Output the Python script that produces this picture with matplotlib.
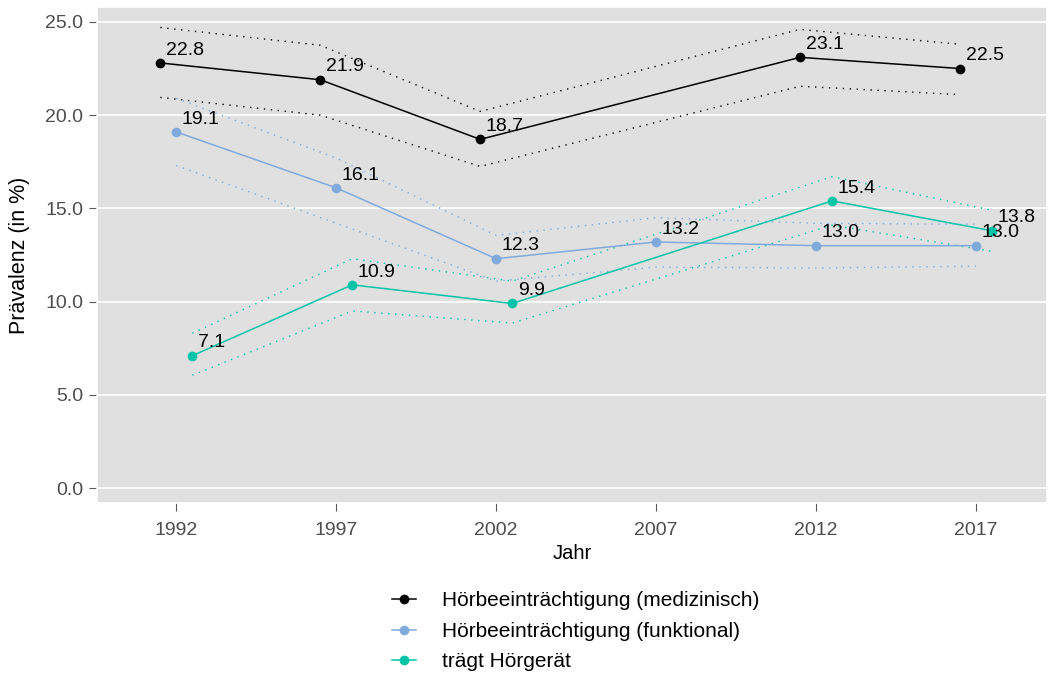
import matplotlib
matplotlib.use("Agg")
import matplotlib.pyplot as plt
from matplotlib.lines import Line2D

plt.rcParams['font.family'] = ['Liberation Sans', 'DejaVu Sans']

# ---- data ----
series_names = ["Hörbeeinträchtigung (medizinisch)",
                "Hörbeeinträchtigung (funktional)",
                "trägt Hörgerät"]
series_colors = ["#000000", "#80AADC", "#00C4A8"]
series_offset = [-0.5, 0.0, 0.5]

med_years = [1992, 1997, 2002, 2012, 2017]
med_vals = [22.8, 21.9, 18.7, 23.1, 22.5]
med_hi = [24.7, 23.75, 20.2, 24.6, 23.8]
med_lo = [20.95, 20.0, 17.25, 21.55, 21.1]

fun_years = [1992, 1997, 2002, 2007, 2012, 2017]
fun_vals = [19.1, 16.1, 12.3, 13.2, 13.0, 13.0]
fun_hi = [20.9, 17.7, 13.55, 14.5, 14.2, 14.15]
fun_lo = [17.3, 14.2, 11.1, 11.85, 11.8, 11.9]

hg_years = [1992, 1997, 2002, 2012, 2017]
hg_vals = [7.1, 10.9, 9.9, 15.4, 13.8]
hg_hi = [8.3, 12.3, 11.1, 16.7, 14.9]
hg_lo = [6.05, 9.5, 8.85, 14.1, 12.7]

year_ticks = [1992, 1997, 2002, 2007, 2012, 2017]
y_ticks = [0, 5, 10, 15, 20, 25]

data = [(med_years, med_vals, med_hi, med_lo),
        (fun_years, fun_vals, fun_hi, fun_lo),
        (hg_years, hg_vals, hg_hi, hg_lo)]

fig = plt.figure(figsize=(10.51, 6.73), dpi=100)
ax = fig.add_axes([97.3 / 1051, 1 - 503 / 673, (1047 - 97.3) / 1051, (503 - 7) / 673])
ax.set_facecolor("#E0E0E0")

for (yrs, vals, hi, lo), col, off in zip(data, series_colors, series_offset):
    xs = [y + off for y in yrs]
    ax.plot(xs, hi, linestyle=(0, (1, 4)), color=col, lw=1.0, zorder=2)
    ax.plot(xs, lo, linestyle=(0, (1, 4)), color=col, lw=1.0, zorder=2)
    ax.plot(xs, vals, color=col, lw=1.1, marker='o', markersize=7,
            markeredgewidth=0, zorder=3)
    for x, v in zip(xs, vals):
        ax.annotate(f"{v:.1f}", (x, v), xytext=(4, 6), textcoords='offset points',
                    ha='left', va='baseline', fontsize=14, color='black', zorder=4)

ax.set_xlim(1989.53, 2019.22)
ax.set_ylim(-0.8, 25.8)
ax.set_xticks(year_ticks)
ax.set_xticklabels([str(y) for y in year_ticks])
ax.set_yticks(y_ticks)
ax.set_yticklabels([f"{v:.1f}" for v in y_ticks])
ax.grid(axis='y', color='white', lw=1.2)
ax.grid(axis='x', visible=False)
ax.set_axisbelow(True)
for s in ax.spines.values():
    s.set_color('white')
    s.set_linewidth(1.2)
ax.tick_params(axis='both', colors='#5A5A5A', labelsize=14, length=6, width=0.8,
               labelcolor='#4D4D4D')
ax.tick_params(axis='x', pad=8)
ax.tick_params(axis='y', pad=4)
ax.set_xlabel("Jahr", fontsize=14.5, color='black', labelpad=3)
ax.set_ylabel("Prävalenz (in %)", fontsize=15.5, color='black', labelpad=11)

handles = [Line2D([0], [0], color=c, lw=1.1, marker='o', markersize=7, markeredgewidth=0)
           for c in series_colors]
fig.legend(handles, series_names, loc='upper center', bbox_to_anchor=(0.548, 0.149),
           frameon=False, fontsize=15, handlelength=1.15, handletextpad=1.25,
           labelspacing=0.55)

fig.savefig("out.png", dpi=100)
